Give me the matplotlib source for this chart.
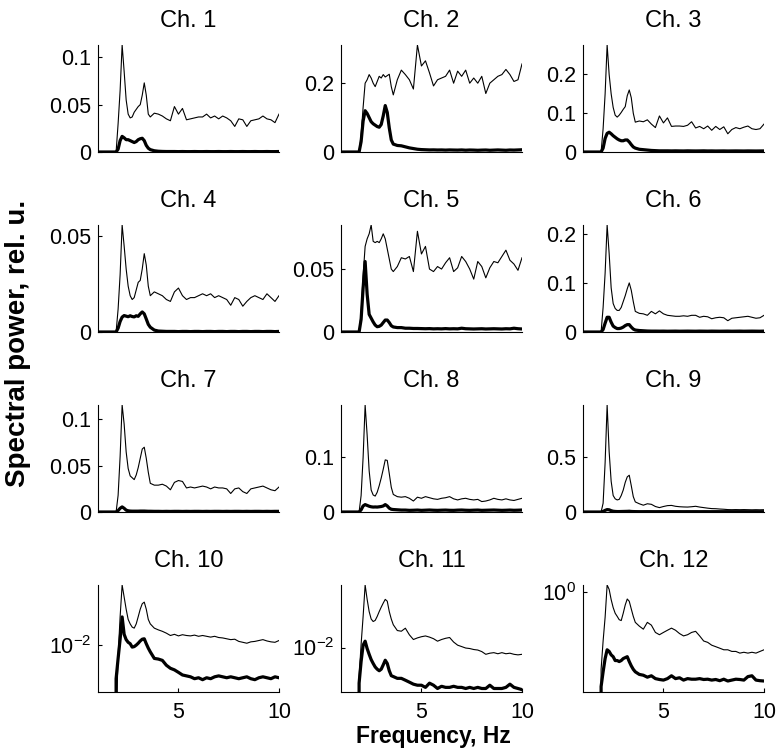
import numpy as np
import matplotlib
matplotlib.use('Agg')
from matplotlib import pyplot as plt
from matplotlib.ticker import NullLocator

plt.rcParams['font.family'] = ['Liberation Sans', 'DejaVu Sans']
plt.rcParams['mathtext.fontset'] = 'custom'
plt.rcParams['mathtext.rm'] = 'Liberation Sans'

# frequency grid, Hz
freq = [1.0, 1.9, 2.0, 2.1, 2.2, 2.3, 2.4, 2.5, 2.6, 2.7, 2.8, 2.9, 3.0, 3.1, 3.2, 3.3, 3.4, 3.5, 3.6,
        3.8, 4.0, 4.2, 4.4, 4.6, 4.8, 5.0, 5.2, 5.4, 5.6, 5.8, 6.0, 6.2, 6.4, 6.6, 6.8, 7.0, 7.2,
        7.4, 7.6, 7.8, 8.0, 8.2, 8.4, 8.6, 8.8, 9.0, 9.2, 9.4, 9.6, 9.8, 10.0]

# thin line = total, thick line = part (per channel)
thin1 = [0, 0, 0.03, 0.065, 0.113, 0.085, 0.055, 0.04, 0.036, 0.037, 0.042, 0.045, 0.048, 0.05, 0.06, 0.073, 0.06, 0.04, 0.037,
         0.041, 0.04, 0.038, 0.035, 0.033, 0.048, 0.04, 0.046, 0.034, 0.035, 0.036, 0.037, 0.037, 0.04, 0.036, 0.038,
         0.035, 0.038, 0.036, 0.033, 0.027, 0.035, 0.034, 0.027, 0.033, 0.034, 0.035, 0.038, 0.035, 0.034, 0.031, 0.04]
thick1 = [0, 0, 0.003, 0.012, 0.0165, 0.015, 0.013, 0.013, 0.012, 0.011, 0.01, 0.011, 0.013, 0.014, 0.0145, 0.012, 0.007, 0.004, 0.0025,
          0.0013, 0.0008, 0.0006, 0.0005, 0.0005, 0.0005, 0.0004, 0.0005, 0.0004, 0.0004, 0.0005, 0.0004, 0.0004, 0.0005, 0.0004, 0.0004,
          0.0005, 0.0004, 0.0004, 0.0005, 0.0004, 0.0004, 0.0005, 0.0004, 0.0004, 0.0005, 0.0004, 0.0004, 0.0005, 0.0004, 0.0004, 0.0005]

thin2 = [0, 0, 0.05, 0.13, 0.2, 0.21, 0.225, 0.215, 0.2, 0.19, 0.205, 0.22, 0.215, 0.225, 0.218, 0.222, 0.226, 0.19, 0.166,
         0.21, 0.238, 0.225, 0.21, 0.183, 0.311, 0.25, 0.265, 0.23, 0.192, 0.21, 0.215, 0.22, 0.238, 0.2, 0.235,
         0.22, 0.238, 0.2, 0.215, 0.2, 0.22, 0.17, 0.2, 0.21, 0.22, 0.225, 0.24, 0.225, 0.205, 0.21, 0.256]
thick2 = [0, 0, 0.03, 0.09, 0.12, 0.112, 0.1, 0.088, 0.082, 0.078, 0.074, 0.072, 0.08, 0.105, 0.135, 0.115, 0.07, 0.035, 0.023,
          0.019, 0.018, 0.015, 0.012, 0.01, 0.008, 0.007, 0.0065, 0.006, 0.0062, 0.0058, 0.006, 0.0055, 0.006, 0.0057, 0.0055,
          0.006, 0.0052, 0.0058, 0.0055, 0.005, 0.0055, 0.0058, 0.005, 0.0055, 0.006, 0.0055, 0.005, 0.0058, 0.0055, 0.006, 0.0065]

thin3 = [0, 0, 0.06, 0.15, 0.276, 0.2, 0.15, 0.115, 0.095, 0.09, 0.095, 0.102, 0.11, 0.117, 0.145, 0.16, 0.14, 0.1, 0.077,
         0.08, 0.078, 0.083, 0.072, 0.063, 0.093, 0.075, 0.088, 0.066, 0.067, 0.067, 0.066, 0.069, 0.078, 0.062, 0.066,
         0.06, 0.067, 0.056, 0.066, 0.058, 0.065, 0.047, 0.058, 0.063, 0.06, 0.064, 0.067, 0.06, 0.058, 0.06, 0.072]
thick3 = [0, 0, 0.01, 0.035, 0.048, 0.051, 0.047, 0.042, 0.038, 0.034, 0.031, 0.029, 0.029, 0.031, 0.031, 0.026, 0.019, 0.013, 0.01,
          0.007, 0.006, 0.005, 0.004, 0.0035, 0.003, 0.003, 0.003, 0.0028, 0.003, 0.0028, 0.0027, 0.003, 0.0028, 0.0027, 0.0028,
          0.003, 0.0027, 0.0028, 0.0026, 0.0027, 0.0028, 0.0026, 0.0027, 0.0028, 0.0027, 0.0026, 0.0028, 0.0027, 0.0026, 0.0027, 0.0028]

thin4 = [0, 0, 0.012, 0.03, 0.056, 0.045, 0.033, 0.024, 0.019, 0.017, 0.018, 0.022, 0.026, 0.027, 0.033, 0.041, 0.035, 0.024, 0.019,
         0.021, 0.02, 0.019, 0.017, 0.016, 0.021, 0.023, 0.019, 0.017, 0.018, 0.018, 0.019, 0.02, 0.019, 0.02, 0.018,
         0.019, 0.018, 0.017, 0.014, 0.018, 0.017, 0.0135, 0.016, 0.018, 0.019, 0.018, 0.017, 0.02, 0.018, 0.016, 0.019]
thick4 = [0, 0, 0.002, 0.0055, 0.0078, 0.0086, 0.0083, 0.008, 0.0085, 0.0081, 0.0079, 0.0085, 0.0082, 0.0095, 0.0105, 0.0095, 0.0068, 0.004, 0.0025,
          0.001, 0.0005, 0.0004, 0.0003, 0.0003, 0.0003, 0.0002, 0.0003, 0.0003, 0.0002, 0.0003, 0.0003, 0.0002, 0.0003, 0.0003, 0.0002,
          0.0003, 0.0003, 0.0002, 0.0003, 0.0003, 0.0002, 0.0003, 0.0003, 0.0002, 0.0003, 0.0003, 0.0002, 0.0003, 0.0003, 0.0002, 0.0003]

thin5 = [0, 0, 0.015, 0.045, 0.068, 0.074, 0.078, 0.085, 0.072, 0.071, 0.072, 0.071, 0.074, 0.078, 0.074, 0.066, 0.058, 0.05, 0.048,
         0.052, 0.059, 0.058, 0.06, 0.048, 0.08, 0.062, 0.068, 0.05, 0.048, 0.052, 0.05, 0.055, 0.059, 0.048, 0.051,
         0.06, 0.056, 0.05, 0.042, 0.056, 0.052, 0.043, 0.051, 0.056, 0.055, 0.06, 0.065, 0.057, 0.054, 0.049, 0.059]
thick5 = [0, 0, 0.01, 0.035, 0.056, 0.03, 0.014, 0.011, 0.008, 0.0055, 0.0042, 0.0045, 0.0055, 0.0075, 0.0095, 0.0095, 0.0075, 0.005, 0.004,
          0.0035, 0.0035, 0.003, 0.003, 0.0028, 0.0028, 0.0027, 0.0026, 0.0027, 0.0025, 0.0026, 0.0025, 0.0027, 0.0025, 0.0026, 0.0025,
          0.003, 0.0026, 0.0025, 0.0024, 0.0025, 0.0026, 0.0024, 0.0025, 0.0026, 0.0025, 0.0024, 0.0026, 0.0025, 0.003, 0.0026, 0.0024]

thin6 = [0, 0, 0.05, 0.12, 0.218, 0.16, 0.09, 0.058, 0.048, 0.044, 0.044, 0.05, 0.062, 0.074, 0.088, 0.1, 0.085, 0.062, 0.042,
         0.038, 0.037, 0.034, 0.042, 0.037, 0.043, 0.037, 0.034, 0.033, 0.032, 0.032, 0.033, 0.032, 0.034, 0.034, 0.03,
         0.032, 0.031, 0.027, 0.029, 0.03, 0.029, 0.023, 0.028, 0.029, 0.03, 0.031, 0.032, 0.03, 0.028, 0.029, 0.034]
thick6 = [0, 0, 0.005, 0.018, 0.03, 0.03, 0.02, 0.012, 0.009, 0.007, 0.007, 0.008, 0.01, 0.013, 0.015, 0.015, 0.01, 0.006, 0.004,
          0.003, 0.0025, 0.002, 0.0018, 0.0018, 0.0017, 0.0018, 0.0016, 0.0017, 0.0018, 0.0016, 0.0017, 0.0018, 0.0017, 0.0016, 0.0018,
          0.0017, 0.0016, 0.0018, 0.0017, 0.0016, 0.0017, 0.0018, 0.0016, 0.0017, 0.0018, 0.0016, 0.0017, 0.0018, 0.0017, 0.0016, 0.0018]

thin7 = [0, 0, 0.018, 0.06, 0.1156, 0.095, 0.065, 0.047, 0.039, 0.037, 0.035, 0.04, 0.048, 0.058, 0.068, 0.07, 0.058, 0.043, 0.031,
         0.029, 0.029, 0.03, 0.028, 0.024, 0.032, 0.034, 0.033, 0.026, 0.027, 0.026, 0.027, 0.028, 0.027, 0.025, 0.027,
         0.026, 0.026, 0.025, 0.02, 0.025, 0.026, 0.022, 0.02, 0.025, 0.026, 0.027, 0.028, 0.026, 0.024, 0.023, 0.027]
thick7 = [0, 0, 0.0015, 0.004, 0.0055, 0.004, 0.002, 0.0013, 0.001, 0.0009, 0.0009, 0.0009, 0.0009, 0.001, 0.001, 0.001, 0.0009, 0.0008, 0.0008,
          0.0007, 0.0007, 0.0006, 0.0007, 0.0006, 0.0007, 0.0007, 0.0006, 0.0007, 0.0006, 0.0007, 0.0007, 0.0006, 0.0007, 0.0006, 0.0007,
          0.0007, 0.0006, 0.0007, 0.0006, 0.0007, 0.0007, 0.0006, 0.0007, 0.0006, 0.0007, 0.0007, 0.0006, 0.0007, 0.0006, 0.0007, 0.0007]

thin8 = [0, 0, 0.03, 0.1, 0.195, 0.14, 0.075, 0.04, 0.031, 0.029, 0.036, 0.048, 0.062, 0.078, 0.095, 0.094, 0.07, 0.045, 0.032,
         0.028, 0.027, 0.028, 0.025, 0.02, 0.027, 0.025, 0.028, 0.026, 0.024, 0.023, 0.025, 0.026, 0.028, 0.024, 0.022,
         0.024, 0.025, 0.023, 0.022, 0.023, 0.019, 0.02, 0.022, 0.025, 0.023, 0.022, 0.024, 0.022, 0.021, 0.023, 0.025]
thick8 = [0, 0, 0.004, 0.011, 0.0135, 0.012, 0.0105, 0.0095, 0.009, 0.0092, 0.009, 0.0095, 0.01, 0.011, 0.0135, 0.011, 0.007, 0.005, 0.0045,
          0.004, 0.0035, 0.0035, 0.003, 0.0032, 0.0035, 0.003, 0.0033, 0.0036, 0.0032, 0.003, 0.0033, 0.0035, 0.0031, 0.003, 0.0034,
          0.0036, 0.0032, 0.003, 0.0033, 0.0035, 0.003, 0.0032, 0.0034, 0.0036, 0.0033, 0.003, 0.0032, 0.0035, 0.0031, 0.0033, 0.0036]

thin9 = [0, 0, 0.08, 0.45, 0.975, 0.55, 0.28, 0.15, 0.12, 0.11, 0.115, 0.15, 0.2, 0.27, 0.32, 0.335, 0.24, 0.14, 0.092,
         0.075, 0.062, 0.075, 0.07, 0.05, 0.04, 0.05, 0.058, 0.06, 0.052, 0.048, 0.046, 0.045, 0.048, 0.052, 0.045,
         0.04, 0.035, 0.031, 0.03, 0.027, 0.025, 0.022, 0.021, 0.022, 0.021, 0.022, 0.021, 0.02, 0.021, 0.02, 0.021]
thick9 = [0, 0, 0.005, 0.015, 0.022, 0.02, 0.012, 0.007, 0.005, 0.004, 0.004, 0.0045, 0.005, 0.0055, 0.006, 0.007, 0.005, 0.004, 0.0035,
          0.003, 0.003, 0.0032, 0.003, 0.0028, 0.003, 0.0029, 0.003, 0.0031, 0.0029, 0.003, 0.0028, 0.003, 0.0029, 0.003, 0.0028,
          0.003, 0.0029, 0.0028, 0.003, 0.0029, 0.0028, 0.003, 0.0029, 0.0028, 0.003, 0.0029, 0.0028, 0.003, 0.0029, 0.0028, 0.003]

thin10 = [0, 0.002, 0.008, 0.018, 0.0346, 0.027, 0.021, 0.017, 0.0155, 0.0145, 0.0142, 0.0155, 0.018, 0.021, 0.0235, 0.0243, 0.021, 0.017, 0.0155,
          0.0142, 0.0137, 0.0133, 0.0128, 0.0122, 0.0125, 0.0121, 0.0124, 0.0122, 0.0121, 0.0123, 0.012, 0.0122, 0.012, 0.0118, 0.012,
          0.0117, 0.0116, 0.0114, 0.0112, 0.0113, 0.0108, 0.0106, 0.0104, 0.0107, 0.0108, 0.011, 0.0112, 0.0109, 0.0107, 0.0106, 0.011]
thick10 = [0, 0.005, 0.0076, 0.0113, 0.0179, 0.0125, 0.0112, 0.0106, 0.0103, 0.0096, 0.0097, 0.01, 0.0104, 0.0109, 0.0113, 0.0114, 0.0103, 0.0094, 0.0087,
           0.0076, 0.0075, 0.0073, 0.0066, 0.0062, 0.006, 0.0057, 0.0054, 0.0053, 0.0052, 0.005, 0.0051, 0.0049, 0.0051, 0.005, 0.0052,
           0.0053, 0.0052, 0.0051, 0.0052, 0.0051, 0.005, 0.0051, 0.0052, 0.005, 0.0049, 0.0051, 0.0052, 0.0051, 0.005, 0.0052, 0.0051]

thin11 = [0, 0.0055, 0.0107, 0.019, 0.0363, 0.027, 0.021, 0.018, 0.0171, 0.0175, 0.019, 0.021, 0.023, 0.025, 0.027, 0.026, 0.021, 0.018, 0.016,
          0.0142, 0.014, 0.0149, 0.013, 0.0118, 0.0122, 0.0125, 0.0127, 0.0124, 0.012, 0.0114, 0.0118, 0.0121, 0.0123, 0.0112, 0.0105,
          0.0102, 0.0099, 0.0098, 0.0096, 0.0095, 0.0092, 0.0087, 0.0089, 0.009, 0.0088, 0.009, 0.0088, 0.0089, 0.0087, 0.0086, 0.0087]
thick11 = [0, 0.0048, 0.0075, 0.0105, 0.0114, 0.0098, 0.0087, 0.0078, 0.0072, 0.0067, 0.0064, 0.0062, 0.0064, 0.007, 0.0077, 0.0072, 0.0062, 0.0056, 0.0055,
           0.0053, 0.0053, 0.0051, 0.0049, 0.0047, 0.0046, 0.0046, 0.0044, 0.0048, 0.0046, 0.0043, 0.0045, 0.0044, 0.0044, 0.0045, 0.0044,
           0.0044, 0.0043, 0.0044, 0.0043, 0.0044, 0.0043, 0.0043, 0.0046, 0.0043, 0.0043, 0.0043, 0.0044, 0.0047, 0.0044, 0.0043, 0.0042]

thin12 = [0, 0.2, 0.36, 0.59, 1.15, 1.05, 0.85, 0.72, 0.64, 0.6, 0.56, 0.55, 0.64, 0.76, 0.86, 0.82, 0.7, 0.6, 0.53,
          0.49, 0.46, 0.53, 0.5, 0.43, 0.41, 0.43, 0.45, 0.47, 0.45, 0.42, 0.4, 0.41, 0.43, 0.44, 0.4,
          0.36, 0.35, 0.33, 0.32, 0.31, 0.3, 0.3, 0.29, 0.29, 0.28, 0.285, 0.28, 0.285, 0.28, 0.29, 0.3]
thick12 = [0, 0.14, 0.19, 0.25, 0.3, 0.29, 0.27, 0.26, 0.24, 0.24, 0.235, 0.24, 0.25, 0.255, 0.26, 0.235, 0.215, 0.2, 0.19,
           0.18, 0.177, 0.17, 0.175, 0.165, 0.162, 0.16, 0.165, 0.175, 0.165, 0.168, 0.16, 0.165, 0.163, 0.163, 0.165,
           0.162, 0.163, 0.16, 0.162, 0.158, 0.163, 0.157, 0.16, 0.163, 0.162, 0.16, 0.172, 0.175, 0.16, 0.158, 0.157]

thin = [thin1, thin2, thin3, thin4, thin5, thin6, thin7, thin8, thin9, thin10, thin11, thin12]
thick = [thick1, thick2, thick3, thick4, thick5, thick6, thick7, thick8, thick9, thick10, thick11, thick12]
for a, b in zip(thin, thick):
    assert len(a) == len(freq) and len(b) == len(freq), (len(a), len(b))

titles = ['Ch. %d' % (i + 1) for i in range(12)]
yticks = [[0, 0.05, 0.1], [0, 0.2], [0, 0.1, 0.2], [0, 0.05], [0, 0.05], [0, 0.1, 0.2],
          [0, 0.05, 0.1], [0, 0.1], [0, 0.5], [1e-2], [1e-2], [1e0]]
ytick_labels = [['0', '0.05', '0.1'], ['0', '0.2'], ['0', '0.1', '0.2'], ['0', '0.05'], ['0', '0.05'],
                ['0', '0.1', '0.2'], ['0', '0.05', '0.1'], ['0', '0.1'], ['0', '0.5'],
                ['$10^{-2}$'], ['$10^{-2}$'], ['$10^{0}$']]
log_bottom = {9: 0.0038, 10: 0.004, 11: 0.125}

W, H = 780, 755
fig = plt.figure(figsize=(W / 100, H / 100), dpi=100)

col_left = [98, 341, 583]
row_top = [45, 225, 405, 585]
aw, ah = 181, 107

for i in range(12):
    r, c = divmod(i, 3)
    ax = fig.add_axes([col_left[c] / W, 1 - (row_top[r] + ah) / H, aw / W, ah / H])
    ax.plot(freq, thin[i], color='k', lw=0.8)
    ax.plot(freq, thick[i], color='k', lw=2.3)
    ax.set_xlim(1, 10)
    if i in log_bottom:
        ax.set_yscale('log')
        ax.set_ylim(log_bottom[i], max(thin[i]))
        ax.yaxis.set_minor_locator(NullLocator())
    else:
        ax.set_ylim(0, max(thin[i]))
    ax.set_yticks(yticks[i])
    ax.set_yticklabels(ytick_labels[i])
    if r == 3:
        ax.set_xticks([5, 10])
        ax.set_xticklabels(['5', '10'])
    else:
        ax.set_xticks([])
    ax.set_title(titles[i], fontsize=17, pad=13)
    for s in ['top', 'right']:
        ax.spines[s].set_visible(False)
    for s in ['left', 'bottom']:
        ax.spines[s].set_linewidth(0.8)
    ax.tick_params(direction='in', length=3, width=0.8, labelsize=15.5)
    ax.tick_params(axis='y', pad=5)
    ax.tick_params(axis='x', pad=7)

fig.text(18.5 / W, 1 - 343 / H, 'Spectral power, rel. u.', rotation=90, ha='center', va='center',
         fontsize=20, fontweight='bold')
fig.text(433 / W, 1 - 737 / H, 'Frequency, Hz', ha='center', va='center',
         fontsize=16.5, fontweight='bold')

fig.savefig('out.png', dpi=100)
